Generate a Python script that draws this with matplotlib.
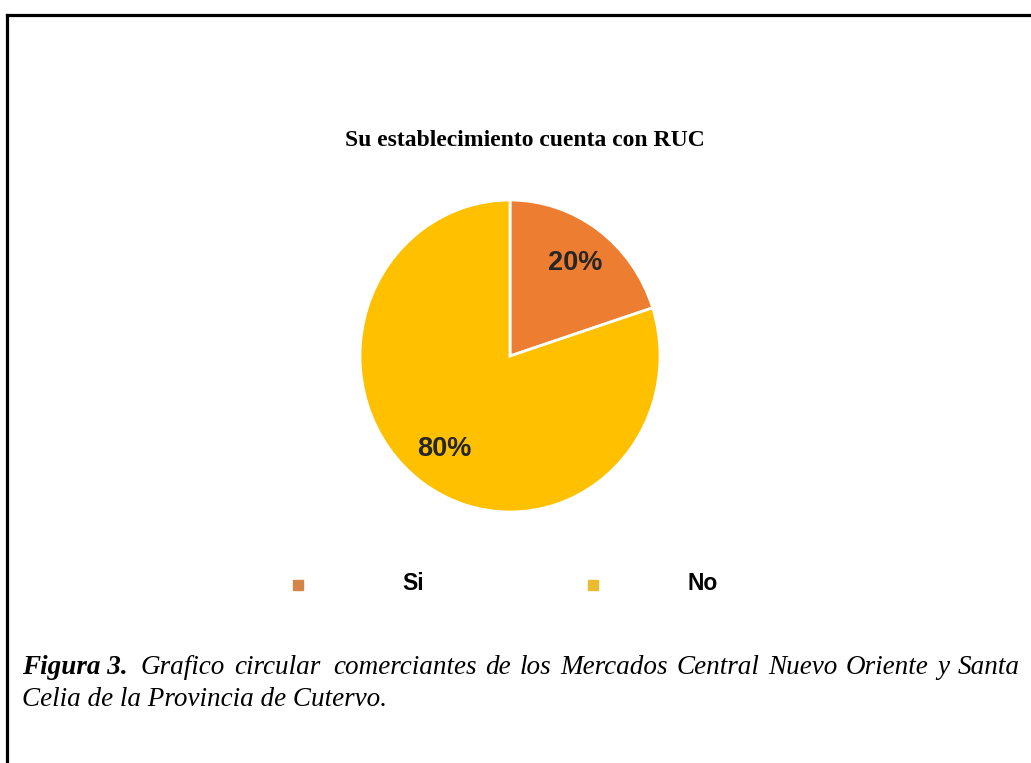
import matplotlib
matplotlib.use("Agg")
import matplotlib.pyplot as plt
from matplotlib.lines import Line2D

# Survey answers: does the business have a RUC
labels = ["Si", "No"]
values = [20, 80]
colors = ["#ED7D31", "#FFC000"]
legend_colors = ["#D4854A", "#E9BB2E"]

title = "Su establecimiento cuenta con RUC"
caption_head = "Figura 3."
caption_line1 = "Grafico circular   comerciantes de los Mercados Central Nuevo Oriente y Santa"
caption_line2 = "Celia de la Provincia de Cutervo."

W, H = 1031, 763
fig = plt.figure(figsize=(W / 100, H / 100), dpi=100)

def fx(px):
    return px / W

def fy(py):
    return 1 - py / H

# frame around the figure (only left and top edges show)
fig.add_artist(Line2D([fx(7), fx(7)], [fy(15), 0], color="black", lw=2.3))
fig.add_artist(Line2D([fx(7), 1], [fy(15), fy(15)], color="black", lw=2.3))

fig.text(fx(525), fy(141), title, ha="center", va="center",
         family="Liberation Serif", fontweight="bold", fontsize=17)

# pie sits in its own axes, slightly taller than wide
cx, cy, rx, ry = 510, 356, 150, 156
ax = fig.add_axes([fx(cx - rx), fy(cy + ry), 2 * rx / W, 2 * ry / H])
wedges, texts, autotexts = ax.pie(
    values, colors=colors, startangle=90, counterclock=False,
    autopct="%.0f%%", pctdistance=0.74,
    wedgeprops=dict(edgecolor="white", linewidth=2),
    textprops=dict(family="Liberation Sans", fontweight="bold",
                   fontsize=19.5, color="#262626"))
ax.set_aspect("auto")
ax.set_xlim(-1, 1)
ax.set_ylim(-1, 1)
ax.axis("off")

# legend drawn as markers and labels in a row
legend_marks = [298, 593]
legend_texts = [413, 703]
for lab, col, mx, tx in zip(labels, legend_colors, legend_marks, legend_texts):
    fig.add_artist(Line2D([fx(mx)], [fy(585)], marker="s", markersize=7,
                          color=col, linestyle="none"))
    fig.text(fx(tx), fy(583), lab, ha="center", va="center",
             family="Liberation Sans", fontweight="bold", fontsize=16.5)

# caption: pick a size that lets line 1 run the full width, then justify it
fig.canvas.draw()
renderer = fig.canvas.get_renderer()
x0, x1 = 22, 1020
y1, y2 = 668, 700

def width_at(s, size, weight="normal"):
    t = fig.text(0, 0, s, family="Liberation Serif", style="italic",
                 fontweight=weight, fontsize=size)
    w = t.get_window_extent(renderer).width
    t.remove()
    return w

natural = (width_at(caption_head + "  ", 10, "bold")
           + width_at(caption_line1, 10))
cap_size = 10 * (x1 - x0) / natural * 0.99

words = [(caption_head, "bold")] + [(w, "normal") for w in caption_line1.split()]
items = []
total = 0
for w, wt in words:
    t = fig.text(0, fy(y1), w, ha="left", va="center", family="Liberation Serif",
                 style="italic", fontweight=wt, fontsize=cap_size)
    bb = t.get_window_extent(renderer)
    items.append((t, bb.width))
    total += bb.width
gap = (x1 - x0 - total) / (len(items) - 1)
pos = x0
for i, (t, wd) in enumerate(items):
    t.set_x(fx(pos))
    pos += wd + gap
    # wider spaces after the figure number and after "circular"
    if i in (0, 2):
        pos += 0.4 * gap
    else:
        pos -= 0.8 * gap / (len(items) - 3)

fig.text(fx(x0), fy(y2), caption_line2, ha="left", va="center",
         family="Liberation Serif", style="italic", fontsize=cap_size)

fig.savefig("out.png", dpi=100)
